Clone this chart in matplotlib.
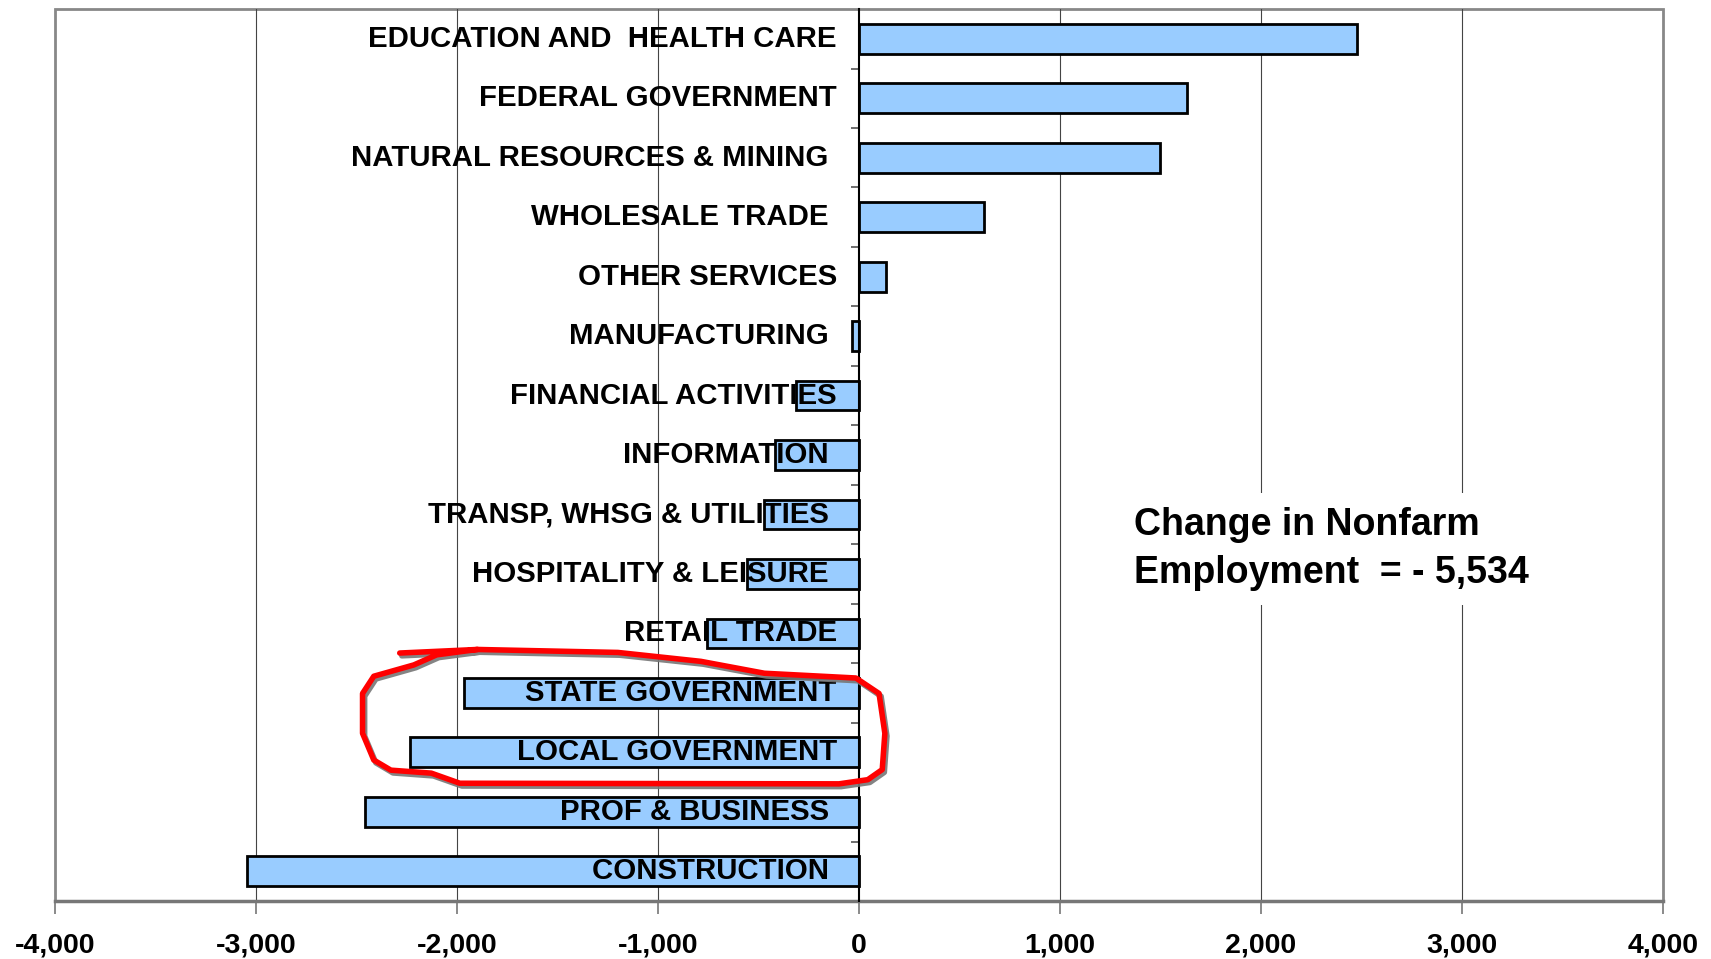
import numpy as np
import matplotlib.pyplot as plt
import matplotlib.patheffects as pe
from matplotlib.patches import Rectangle
from matplotlib.ticker import FuncFormatter

plt.rcParams['font.family'] = ['Liberation Sans', 'DejaVu Sans']

categories = ['EDUCATION AND  HEALTH CARE', 'FEDERAL GOVERNMENT', 'NATURAL RESOURCES & MINING ',
              'WHOLESALE TRADE ', 'OTHER SERVICES', 'MANUFACTURING ', 'FINANCIAL ACTIVITIES',
              'INFORMATION ', 'TRANSP, WHSG & UTILITIES ', 'HOSPITALITY & LEISURE ', 'RETAIL TRADE',
              'STATE GOVERNMENT', 'LOCAL GOVERNMENT', 'PROF & BUSINESS ', 'CONSTRUCTION ']
changes = [2476, 1634, 1498, 620, 136, -34, -312, -419, -473, -555, -757,
           -1964, -2231, -2459, -3045]
x_ticks = [-4000, -3000, -2000, -1000, 0, 1000, 2000, 3000, 4000]
note = 'Change in Nonfarm\nEmployment  = - 5,534'

# hand-drawn highlight around the state/local government bars (data coords)
loop_x = [-2284, -1898, -1199, -786, -470, -15, 100, 129, 116, 44, -99, -1985, -2127,
          -2328, -2413, -2469, -2469, -2413, -2214, -2100, -1898]
loop_y = [10.33, 10.27, 10.32, 10.47, 10.67, 10.75, 11.01, 11.68, 12.29, 12.46, 12.53,
          12.52, 12.35, 12.30, 12.13, 11.68, 11.01, 10.72, 10.53, 10.36, 10.27]

fig = plt.figure(figsize=(17.11, 9.59), dpi=100)
ax = fig.add_axes([0.032, 0.0605, 0.94, 0.93])

ypos = np.arange(len(categories))
ax.barh(ypos, changes, height=0.5, color='#99CCFF', edgecolor='black', linewidth=2, zorder=3)

for y, lab in zip(ypos, categories):
    ax.text(-110, y, lab, ha='right', va='center', fontsize=21.2, fontweight='bold', zorder=5)

ax.set_xlim(-4000, 4000)
ax.set_ylim(14.5, -0.5)

ax.set_xticks(x_ticks)
ax.xaxis.set_major_formatter(FuncFormatter(lambda v, p: f'{int(v):,}'))
for t in ax.get_xticklabels():
    t.set_fontweight('bold')
ax.tick_params(axis='x', labelsize=20.5, length=9, width=1.2, color='#777777', pad=14)

for v in x_ticks[1:-1]:
    if v != 0:
        ax.axvline(v, color='#444444', linewidth=0.8, zorder=1)

# category axis sits at zero
ax.spines['left'].set_position(('data', 0))
ax.spines['left'].set_color('black')
ax.spines['left'].set_linewidth(1.5)
ax.spines['left'].set_zorder(4)
ax.set_yticks(np.arange(0.5, len(categories) - 1, 1))
ax.set_yticklabels([])
ax.tick_params(axis='y', length=6, width=1.2, color='#555555')

ax.spines['bottom'].set_color('#777777')
ax.spines['bottom'].set_linewidth(2.5)
ax.spines['top'].set_visible(False)
ax.spines['right'].set_visible(False)
ax.add_patch(Rectangle((0, 0), 1, 1, transform=ax.transAxes, fill=False,
                       edgecolor='#888888', linewidth=2, zorder=0.5, clip_on=False))

ax.text(1370, 8.58, note, ha='left', va='center', fontsize=27, fontweight='bold',
        linespacing=1.45, zorder=5,
        bbox=dict(facecolor='white', edgecolor='none', pad=10))

ax.plot(loop_x, loop_y, color='red', linewidth=4, solid_joinstyle='round',
        solid_capstyle='round', zorder=6,
        path_effects=[pe.SimpleLineShadow(offset=(1.5, -2), shadow_color='#777777', alpha=0.9),
                      pe.Normal()])

fig.savefig('out.png', dpi=100)
